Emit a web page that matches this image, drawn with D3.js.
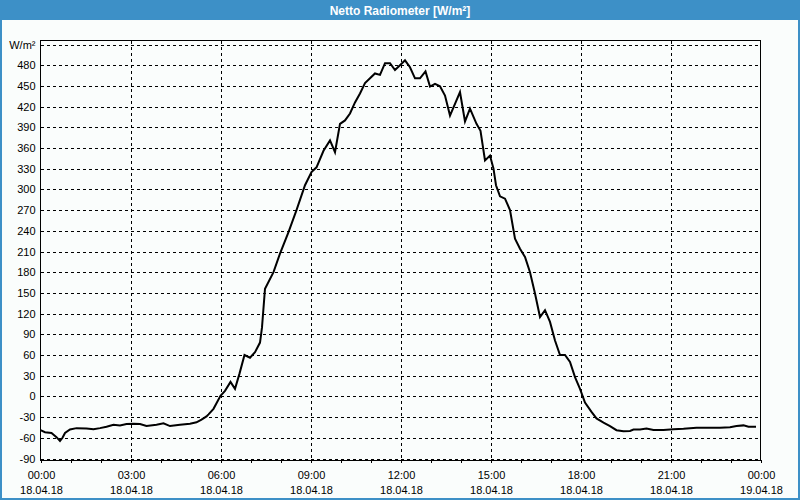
<!DOCTYPE html>
<html>
<head>
<meta charset="utf-8">
<script src="https://cdn.jsdelivr.net/npm/d3@7"></script>
<style>
  html, body { margin: 0; padding: 0; background: #ffffff; }
  svg { display: block; }
  text { font-family: "Liberation Sans", Arial, sans-serif; }
</style>
</head>
<body>
<script>
// ---- Data ----
const title = "Netto Radiometer [W/m²]";
const unitLabel = "W/m²";

const times = [
  "00:00","00:09","00:22","00:32","00:39","00:44","00:49","00:59","01:12","01:32",
  "01:46","01:59","02:12","02:26","02:39","02:52","03:06","03:19","03:32","03:52",
  "04:06","04:19","04:39","04:59","05:12","05:22","05:32","05:36","05:46","05:52",
  "06:00","06:09","06:20","06:29","06:38","06:48","06:59","07:09","07:19","07:23",
  "07:29","07:46","07:59","08:16","08:32","08:49","09:02","09:12","09:26","09:39",
  "09:49","09:59","10:09","10:19","10:29","10:39","10:49","10:59","11:09","11:19",
  "11:29","11:39","11:49","11:59","12:09","12:19","12:29","12:39","12:50","12:59",
  "13:09","13:19","13:29","13:39","13:59","14:09","14:19","14:32","14:40","14:49",
  "14:59","15:06","15:11","15:19","15:29","15:39","15:49","15:59","16:09","16:19",
  "16:29","16:39","16:49","16:59","17:09","17:19","17:29","17:39","17:49","17:59",
  "18:09","18:22","18:32","18:46","18:59","19:12","19:26","19:39","19:46","19:59",
  "20:12","20:26","20:46","21:06","21:26","21:52","22:39","22:59","23:12","23:26",
  "23:36","23:51"
];
const values = [
  -49,-52,-53,-59,-64.5,-60,-53,-48,-46,-46.6,
  -47.6,-46,-44,-41,-42,-40,-39.5,-40,-43,-41,
  -39,-43,-41,-39.5,-37.5,-33.6,-29,-26,-18,-10,
  1,8,21,11,33,60,56,64,78,100,
  156,180,207,238,270,306,325,332,356,371,
  354,395,400,410,426,439,454,461,468,466,
  483,483,473,480,487,477,461,461,471,449,
  453,449.5,436,407,441,398.5,417,395,385,342,
  349,330,306,290,286.5,270,228.5,214,202,180,
  149,115,125,108,81,60,60,50,28,11,
  -9,-22.5,-32,-38,-43,-49,-50.5,-50,-48,-48,
  -46.6,-48.6,-48.6,-47.6,-47,-45.6,-45.6,-44.7,-43,-42,
  -44,-44
];

const yTicks = [-90,-60,-30,0,30,60,90,120,150,180,210,240,270,300,330,360,390,420,450,480,510];
const xMajorTicks = ["00:00","03:00","06:00","09:00","12:00","15:00","18:00","21:00","24:00"];
const xDateLabels = ["18.04.18","18.04.18","18.04.18","18.04.18","18.04.18","18.04.18","18.04.18","18.04.18","19.04.18"];
const xMinorTicks = ["01:00","02:00","04:00","05:00","07:00","08:00","10:00","11:00","13:00","14:00","16:00","17:00","19:00","20:00","22:00","23:00"];

// ---- Helpers ----
const toMin = s => { const [h, m] = s.split(":").map(Number); return h * 60 + m; };
const data = times.map((t, i) => ({ t: toMin(t), v: values[i] }));

// ---- Layout ----
const W = 800, H = 500;
const plot = { left: 40.5, right: 760.5, top: 40.5, bottom: 460.5 };

const svg = d3.select("body").append("svg").attr("width", W).attr("height", H);

// frame
svg.append("rect").attr("x", 0).attr("y", 0).attr("width", W).attr("height", H).attr("fill", "#3d90c7");
svg.append("rect").attr("x", 2).attr("y", 20).attr("width", W - 4).attr("height", H - 22).attr("fill", "#fafdfc");

svg.append("text")
  .attr("x", 400).attr("y", 14.5)
  .attr("text-anchor", "middle")
  .attr("fill", "#ffffff")
  .attr("font-weight", "bold")
  .attr("font-size", "12px")
  .text(title);

// scales
const x = d3.scaleLinear().domain([0, 1440]).range([plot.left, plot.right]);
const y = d3.scaleLinear().domain([-90, 510]).range([458.5, 44.5]);

// grid
const grid = svg.append("g").attr("stroke", "#000").attr("stroke-width", 1).attr("stroke-dasharray", "3,3").attr("shape-rendering", "crispEdges");
grid.selectAll("line.h").data(yTicks).join("line")
  .attr("x1", plot.left).attr("x2", plot.right)
  .attr("y1", d => Math.round(y(d)) + 0.5).attr("y2", d => Math.round(y(d)) + 0.5);
grid.selectAll("line.v").data(xMajorTicks.slice(1, -1)).join("line")
  .attr("x1", d => Math.round(x(toMin(d))) + 0.5).attr("x2", d => Math.round(x(toMin(d))) + 0.5)
  .attr("y1", plot.top).attr("y2", plot.bottom);

// plot border
svg.append("rect")
  .attr("x", plot.left).attr("y", plot.top)
  .attr("width", plot.right - plot.left).attr("height", plot.bottom - plot.top)
  .attr("fill", "none").attr("stroke", "#000").attr("stroke-width", 1)
  .attr("shape-rendering", "crispEdges");

// y axis labels
const yAxis = d3.axisLeft(y).tickValues(yTicks).tickSize(0).tickPadding(5)
  .tickFormat(d => d === 510 ? unitLabel : String(d));
const gy = svg.append("g").attr("transform", `translate(${plot.left},0)`).call(yAxis);
gy.select(".domain").remove();
gy.selectAll("text").attr("font-size", "11px").attr("fill", "#000").attr("font-family", "'Liberation Sans', Arial, sans-serif");

// x axis: hourly ticks
const allHourTicks = xMajorTicks.concat(xMinorTicks).map(toMin).sort((a, b) => a - b);
const xAxis = d3.axisBottom(x).tickValues(allHourTicks).tickSizeInner(3).tickSizeOuter(0).tickFormat("");
const gx = svg.append("g").attr("transform", `translate(0,${plot.bottom - 1})`).call(xAxis);
gx.select(".domain").remove();
gx.selectAll(".tick line").attr("stroke", "#000").attr("shape-rendering", "crispEdges");

// x labels (two lines)
const lab = svg.append("g").attr("font-size", "11px").attr("fill", "#000").attr("text-anchor", "middle");
lab.selectAll("text.time").data(xMajorTicks).join("text")
  .attr("x", d => x(toMin(d)) + 1).attr("y", 479)
  .text(d => d === "24:00" ? "00:00" : d);
lab.selectAll("text.date").data(xDateLabels).join("text")
  .attr("x", (d, i) => x(toMin(xMajorTicks[i])) + 1).attr("y", 494)
  .text(d => d);

// data line
const line = d3.line().x(d => x(d.t)).y(d => y(d.v));
svg.append("path").datum(data)
  .attr("d", line)
  .attr("fill", "none")
  .attr("stroke", "#000")
  .attr("stroke-width", 2)
  .attr("stroke-linejoin", "miter");
</script>
</body>
</html>
